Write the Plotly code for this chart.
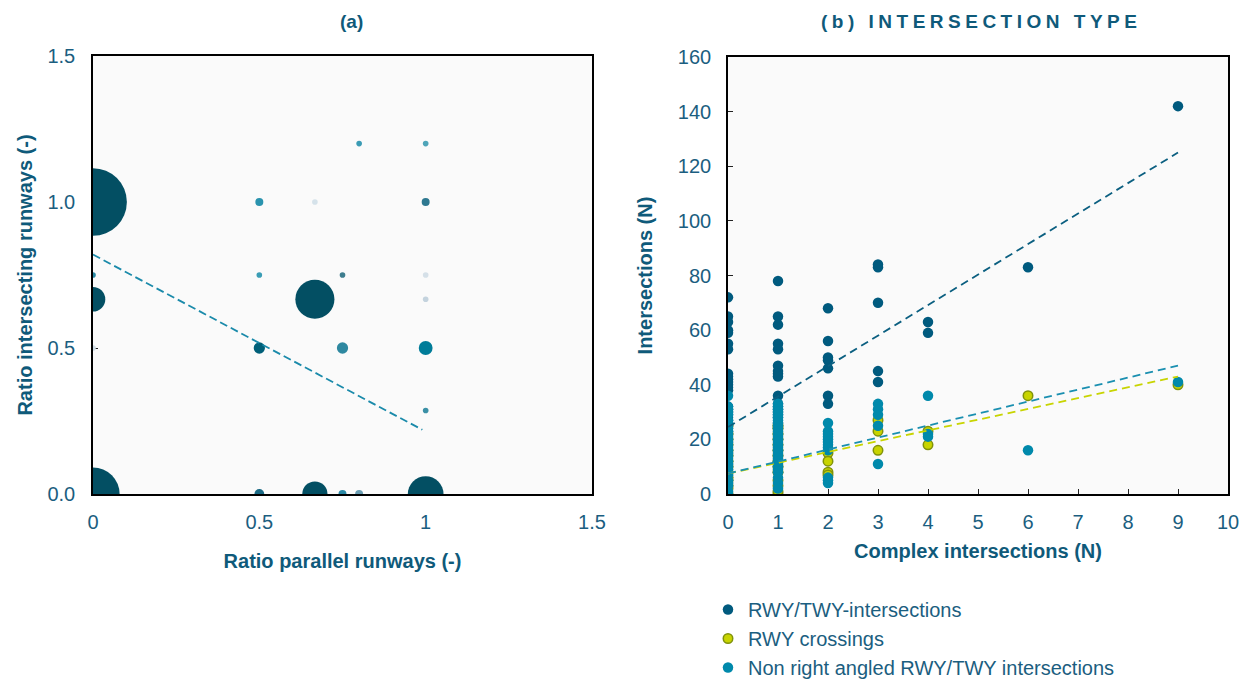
import plotly.graph_objects as go

# ---------------- (a) bubble chart data ----------------
ratio_parallel = [0, 0, 0, 0, 0,
                  0.5, 0.667, 1, 0.8, 1,
                  0.5, 0.75, 1, 0.667, 1,
                  0.5, 0.75, 1, 1,
                  0.5, 0.667, 0.75, 0.8, 1]
ratio_intersecting = [1.0, 0.0, 0.667, 0.75, 0.5,
                      1.0, 1.0, 1.0, 1.2, 1.2,
                      0.75, 0.75, 0.75, 0.667, 0.667,
                      0.5, 0.5, 0.5, 0.286,
                      0.0, 0.0, 0.0, 0.0, 0.0]
airport_count = [144, 89, 19, 1, 1,
                 2, 1, 2, 1, 1,
                 1, 1, 1, 48, 1,
                 4, 4, 6, 1,
                 3, 20, 2, 2, 40]
bubble_colors = ["#034f63", "#034f63", "#034f63", "#2a8aa5", "#d0dde6",
                 "#2a93ae", "#d5e2ea", "#2e7890", "#3a9bb4", "#4fa5b9",
                 "#3a9db5", "#3e7d8e", "#d5e0e8", "#034f63", "#c4d3de",
                 "#005f78", "#2e88a0", "#007c99", "#3b90a6",
                 "#1a6a85", "#034f63", "#2a88a5", "#6a9db2", "#034f63"]
trend_a_x = [0, 0.99]
trend_a_y = [0.82, 0.22]

# ---------------- (b) intersection type data ----------------
rwy_twy_x = ([0] * 41 + [1] * 27 + [2] * 7 + [3] * 5 + [4] * 2 + [6] + [9])
rwy_twy_y = [72, 65, 63, 60, 59, 55, 53, 44, 43, 42, 41, 40, 39, 38, 32, 31, 30, 29,
             28, 27, 26, 25, 24, 23, 22, 20, 19, 18, 16, 15, 14, 12, 11, 10, 9, 8,
             7, 6, 5, 4, 3,
             78, 65, 62, 55, 53, 47, 45, 44, 43, 36, 33, 32, 31, 30, 29, 28, 26, 25,
             24, 22, 20, 18, 16, 14, 12, 10, 8,
             68, 56, 50, 49, 46, 36, 33,
             84, 83, 70, 45, 41,
             63, 59,
             83,
             142]

crossing_x = ([0] * 14 + [1] * 14 + [2] * 4 + [3] * 3 + [4] * 2 + [6] + [9])
crossing_y = [0, 2, 3, 5, 6, 8, 10, 12, 14, 16, 18, 20, 22, 25,
              0, 1, 3, 5, 8, 10, 12, 14, 16, 18, 20, 22, 24, 25,
              15, 12, 8, 7,
              27, 23, 16,
              23, 18,
              36,
              40]

non_right_x = ([0] * 31 + [1] * 29 + [2] * 12 + [3] * 5 + [4] * 3 + [6] + [9])
non_right_y = [36, 32, 31, 30, 29, 27, 26, 25, 24, 23, 22, 21, 20, 19, 18, 17, 16, 15,
               14, 13, 12, 11, 10, 9, 8, 7, 5, 4, 3, 1, 0,
               33, 32, 31, 30, 29, 28, 27, 26, 25, 24, 23, 22, 21, 20, 19, 18, 17, 16,
               15, 14, 13, 12, 11, 10, 9, 8, 6, 4, 2,
               26, 23, 22, 21, 20, 19, 18, 17, 16, 6, 5, 4,
               33, 31, 29, 25, 11,
               36, 22, 21,
               16,
               41]

trend_x = [0, 9]
trend_rwy_twy = [24.5, 125]
trend_crossing = [7.5, 43]
trend_non_right = [7.5, 47]

# ---------------- styling ----------------
FONT = "Liberation Sans, Arial, sans-serif"
TEXT = "#1b5e80"
TITLE = "#0f5a7a"
DARK = "#005a7e"
YELLOW = "#c8d400"
YELLOW_EDGE = "#80920a"
TEAL = "#0089ab"
DASH = "8px,5px"

fig = go.Figure()

fig.add_trace(go.Scatter(
    x=ratio_parallel, y=ratio_intersecting, mode="markers",
    marker=dict(size=airport_count, sizemode="area", sizeref=1.9 / 30.25,
                color=bubble_colors, opacity=1, line=dict(width=0)),
    xaxis="x", yaxis="y", showlegend=False, hoverinfo="x+y"))
fig.add_trace(go.Scatter(
    x=trend_a_x, y=trend_a_y, mode="lines",
    line=dict(color="#1a8aaa", width=1.8, dash="8px,4px"),
    xaxis="x", yaxis="y", showlegend=False))

fig.add_trace(go.Scatter(
    x=rwy_twy_x, y=rwy_twy_y, mode="markers", name="RWY/TWY-intersections",
    marker=dict(size=10.5, color=DARK, opacity=1), xaxis="x2", yaxis="y2"))
fig.add_trace(go.Scatter(
    x=crossing_x, y=crossing_y, mode="markers", name="RWY crossings",
    marker=dict(size=9.5, color=YELLOW, opacity=1,
                line=dict(color=YELLOW_EDGE, width=1.5)),
    xaxis="x2", yaxis="y2"))
fig.add_trace(go.Scatter(
    x=non_right_x, y=non_right_y, mode="markers",
    name="Non right angled RWY/TWY intersections",
    marker=dict(size=10.5, color=TEAL, opacity=1), xaxis="x2", yaxis="y2"))

for vals, col in [(trend_rwy_twy, "#0b5f80"), (trend_crossing, "#c8d400"),
                  (trend_non_right, "#1a8fb0")]:
    fig.add_trace(go.Scatter(
        x=trend_x, y=vals, mode="lines", line=dict(color=col, width=1.8, dash=DASH),
        xaxis="x2", yaxis="y2", showlegend=False))

W, H = 1248, 680


def px_x(p):
    return p / W


def px_y(p):
    return 1 - p / H


axis_common = dict(
    showgrid=False, zeroline=False, showline=True, linecolor="black", linewidth=1.6,
    mirror=True, ticks="inside", ticklen=5, tickcolor="#222", tickwidth=1.2,
    layer="below traces", automargin=False,
    tickfont=dict(family=FONT, size=20, color=TEXT),
    title_font=dict(family=FONT, size=20, color=TITLE),
)

fig.update_layout(
    width=W, height=H,
    margin=dict(l=0, r=0, t=0, b=0, autoexpand=False),
    paper_bgcolor="white",
    plot_bgcolor="#fafafa",
    font=dict(family=FONT, color=TEXT),
    xaxis=dict(domain=[px_x(93), px_x(592)], range=[0, 1.5],
               tickvals=[0, 0.5, 1, 1.5], ticktext=["0", "0.5", "1", "1.5"],
               title=dict(text="<b>Ratio parallel runways (-)</b>", standoff=22),
               ticklabelstandoff=9, anchor="y", **axis_common),
    yaxis=dict(domain=[px_y(494), px_y(56)], range=[0, 1.5],
               tickvals=[0, 0.5, 1.0, 1.5], tickformat=".1f",
               title=dict(text="<b>Ratio intersecting runways (-)</b>", standoff=9),
               ticklabelstandoff=12, anchor="x", **axis_common),
    xaxis2=dict(domain=[px_x(728), px_x(1228)], range=[0, 10], dtick=1,
                title=dict(text="<b>Complex intersections (N)</b>", standoff=12),
                ticklabelstandoff=9, anchor="y2", **axis_common),
    yaxis2=dict(domain=[px_y(494), px_y(57)], range=[0, 160], dtick=20,
                title=dict(text="<b>Intersections (N)</b>", standoff=20),
                ticklabelstandoff=11, anchor="x2", **axis_common),
    showlegend=True,
    legend=dict(x=px_x(708), y=px_y(590), xanchor="left", yanchor="top",
                bgcolor="rgba(0,0,0,0)", itemwidth=30, tracegroupgap=0,
                font=dict(family=FONT, size=20, color=TEXT)),
    annotations=[
        dict(text="<b>(a)</b>", x=px_x(351), y=px_y(22), xref="paper", yref="paper",
             xanchor="center", yanchor="middle", showarrow=False,
             font=dict(family=FONT, size=19, color=TITLE)),
        dict(text="<b><span style='letter-spacing:4.5px'>(b) INTERSECTION TYPE</span></b>",
             x=px_x(981), y=px_y(22), xref="paper", yref="paper",
             xanchor="center", yanchor="middle", showarrow=False,
             font=dict(family=FONT, size=19, color=TITLE)),
    ],
)

fig.write_html("out.html")
